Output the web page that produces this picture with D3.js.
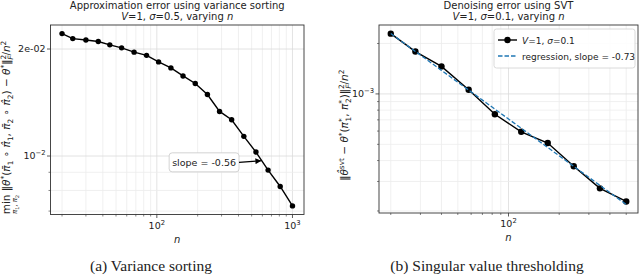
<!DOCTYPE html>
<html>
<head>
<meta charset="utf-8">
<script src="https://cdn.jsdelivr.net/npm/d3@7"></script>
<style>
  body { margin: 0; background: #fff; }
  svg text { font-family: "DejaVu Sans", sans-serif; fill: #222; }
  .cap { font-family: "Liberation Serif", "DejaVu Serif", serif; }
</style>
</head>
<body>
<svg id="chart" width="640" height="275"></svg>
<script>
// dati
const leftN = [20, 24, 30, 37, 45, 55, 68, 84, 103, 127, 156, 192, 236, 290, 356, 438, 538, 661, 812, 1000];
const leftErr = [0.0221, 0.0214, 0.0212, 0.0210, 0.02055, 0.02015, 0.0196, 0.0192, 0.0184, 0.0177, 0.0168,
                 0.0160, 0.0149, 0.01335, 0.01265, 0.01136, 0.01026, 0.00913, 0.00821, 0.00724];
const leftYTicks = [0.01, 0.02];
const leftYLabels = [["10", "\u22122"], ["2e-02", null]];
const slopeLeft = "-0.56";
const annoTip = [590, 0.0097];
const annoText = [223, 0.0096];

const rightN = [20, 28, 40, 58, 83, 119, 171, 244, 349, 500];
const rightErr = [2.29e-3, 1.79e-3, 1.46e-3, 1.06e-3, 7.56e-4, 5.94e-4, 5.09e-4, 3.70e-4, 2.73e-4, 2.28e-4];
const regSlope = -0.73;
const rightYTicks = [1e-3];
const rightYLabels = [["10", "\u22123"]];

const xTicksMajor = [100, 1000];

const svg = d3.select("#chart");

// margine del 5% in scala log, come matplotlib
function logPad(vals) {
  const lo = Math.log10(d3.min(vals)), hi = Math.log10(d3.max(vals));
  const m = (hi - lo) * 0.05;
  return [Math.pow(10, lo - m), Math.pow(10, hi + m)];
}

// scrive testo "matematico" a pezzi con apici e pedici
function mathText(sel, pieces, size) {
  let shift = 0;
  pieces.forEach(p => {
    const t = sel.append("tspan").text(p.t);
    let target = 0, fs = size;
    if (p.s === "sup") { target = -size * 0.4; fs = size * 0.7; }
    if (p.s === "sub") { target = size * 0.25; fs = size * 0.7; }
    t.attr("dy", target - shift).attr("font-size", fs);
    if (p.i) t.attr("font-style", "italic");
    if (p.dx) t.attr("dx", p.dx);
    shift = target;
  });
}

function panel(o) {
  const x = d3.scaleLog().domain(logPad(o.n)).range([o.x0, o.x1]);
  const y = d3.scaleLog().domain(logPad(o.yExtent)).range([o.y1, o.y0]);
  const g = svg.append("g");

  // griglia
  x.ticks().forEach(t => {
    g.append("line").attr("x1", x(t)).attr("x2", x(t)).attr("y1", o.y0).attr("y2", o.y1)
      .attr("stroke", xTicksMajor.includes(t) ? "#dcdcdc" : "#ececec").attr("stroke-width", 0.8);
  });
  y.ticks().forEach(t => {
    g.append("line").attr("x1", o.x0).attr("x2", o.x1).attr("y1", y(t)).attr("y2", y(t))
      .attr("stroke", o.yTicks.includes(t) ? "#dcdcdc" : "#ececec").attr("stroke-width", 0.8);
  });

  // tacche
  x.ticks().forEach(t => {
    const maj = xTicksMajor.includes(t);
    g.append("line").attr("x1", x(t)).attr("x2", x(t)).attr("y1", o.y1).attr("y2", o.y1 + (maj ? 3.5 : 2))
      .attr("stroke", "#333").attr("stroke-width", maj ? 0.8 : 0.6);
  });
  y.ticks().forEach(t => {
    const maj = o.yTicks.includes(t);
    g.append("line").attr("x1", o.x0).attr("x2", o.x0 - (maj ? 3.5 : 2)).attr("y1", y(t)).attr("y2", y(t))
      .attr("stroke", "#333").attr("stroke-width", maj ? 0.8 : 0.6);
  });

  // etichette asse x
  xTicksMajor.filter(t => t >= x.domain()[0] && t <= x.domain()[1]).forEach(t => {
    const tx = g.append("text").attr("x", x(t)).attr("y", o.y1 + 14).attr("text-anchor", "middle").attr("font-size", 9.5);
    tx.append("tspan").text("10");
    tx.append("tspan").text(Math.log10(t)).attr("dy", -4).attr("font-size", 6.8);
  });
  // etichette asse y
  o.yTicks.forEach((t, i) => {
    const lab = o.yLabels[i];
    const ty = g.append("text").attr("x", o.x0 - 5).attr("y", y(t) + 3.3).attr("text-anchor", "end").attr("font-size", 9.5);
    ty.append("tspan").text(lab[0]);
    if (lab[1]) ty.append("tspan").text(lab[1]).attr("dy", -4).attr("font-size", 6.8);
  });

  // riquadro
  g.append("rect").attr("x", o.x0).attr("y", o.y0).attr("width", o.x1 - o.x0).attr("height", o.y1 - o.y0)
    .attr("fill", "none").attr("stroke", "#333").attr("stroke-width", 0.9);

  // titolo
  const cx = (o.x0 + o.x1) / 2;
  g.append("text").attr("x", cx).attr("y", 8.5).attr("text-anchor", "middle").attr("font-size", 10).text(o.title);
  const sub = g.append("text").attr("x", cx).attr("y", 19.5).attr("text-anchor", "middle");
  mathText(sub, [{t: "V", i: 1}, {t: "=1, "}, {t: "\u03c3", i: 1}, {t: "=" + o.sigma + ", varying "}, {t: "n", i: 1}], 10);

  // asse x: n
  g.append("text").attr("x", cx).attr("y", o.y1 + 28).attr("text-anchor", "middle")
    .attr("font-size", 10).attr("font-style", "italic").text("n");

  // didascalia
  svg.append("text").attr("class", "cap").attr("x", o.capX).attr("y", 271).attr("text-anchor", "middle")
    .attr("font-size", 15.5).text(o.caption);

  return { g, x, y };
}

// ---------------- pannello sinistro ----------------
const L = panel({
  n: leftN, yExtent: leftErr, x0: 50.5, x1: 304, y0: 25, y1: 214.5,
  yTicks: leftYTicks, yLabels: leftYLabels,
  title: "Approximation error using variance sorting", sigma: "0.5",
  caption: "(a) Variance sorting", capX: 151
});

const lineL = d3.line().x((d, i) => L.x(leftN[i])).y(d => L.y(d));
L.g.append("path").datum(leftErr).attr("d", lineL).attr("fill", "none").attr("stroke", "#000").attr("stroke-width", 1.4);
L.g.selectAll("circle.pt").data(leftErr).join("circle")
  .attr("cx", (d, i) => L.x(leftN[i])).attr("cy", d => L.y(d)).attr("r", 2.7).attr("fill", "#000");

// annotazione con freccia
svg.append("defs").append("marker").attr("id", "arr").attr("viewBox", "0 0 10 10")
  .attr("refX", 10).attr("refY", 5).attr("markerWidth", 9).attr("markerHeight", 6)
  .attr("markerUnits", "userSpaceOnUse").attr("orient", "auto")
  .append("path").attr("d", "M0,0 L10,5 L0,10 z").attr("fill", "#000");

const atx = L.x(annoText[0]), aty = L.y(annoText[1]);
const aText = L.g.append("text").attr("x", atx).attr("y", aty + 3.3).attr("text-anchor", "middle")
  .attr("font-size", 9.5).text("slope = " + slopeLeft);
const bb = aText.node().getBBox();
L.g.insert("rect", "text:last-of-type").attr("x", bb.x - 3).attr("y", aty - 9.5).attr("width", bb.width + 6).attr("height", 19)
  .attr("rx", 3).attr("fill", "#fff").attr("stroke", "#c8c8c8").attr("stroke-width", 0.8);
aText.raise();
L.g.append("line").attr("x1", bb.x + bb.width + 3).attr("y1", aty).attr("x2", L.x(annoTip[0])).attr("y2", L.y(annoTip[1]))
  .attr("stroke", "#000").attr("stroke-width", 1.2).attr("marker-end", "url(#arr)");

// etichetta y sinistra
const ylg = svg.append("g").attr("transform", "translate(10,125) rotate(-90)");
const ylt = ylg.append("text").attr("font-size", 10.5);
mathText(ylt, [
  {t: "min "}, {t: "\u2016"}, {t: "\u03b8", i: 1}, {t: "*", s: "sup"}, {t: "("},
  {t: "\u03c0\u0304", i: 1}, {t: "1", s: "sub"}, {t: " \u2218 "}, {t: "\u03c0\u0302", i: 1}, {t: "1", s: "sub"}, {t: ", "},
  {t: "\u03c0\u0304", i: 1}, {t: "2", s: "sub"}, {t: " \u2218 "}, {t: "\u03c0\u0302", i: 1}, {t: "2", s: "sub"},
  {t: ") \u2212 "}, {t: "\u03b8", i: 1}, {t: "*", s: "sup"}, {t: "\u2016"}, {t: "2", s: "sup"}, {t: "F", s: "sub", i: 1, dx: -5},
  {t: "/"}, {t: "n", i: 1}, {t: "2", s: "sup"}
], 10.5);
const ylw = ylt.node().getComputedTextLength();
ylt.attr("x", -ylw / 2);
const minW = ylg.append("text").attr("font-size", 10.5).text("min").node();
const mw = minW.getComputedTextLength();
d3.select(minW).remove();
const subt = ylg.append("text").attr("x", -ylw / 2 + mw / 2).attr("y", 7).attr("text-anchor", "middle").attr("font-size", 7);
mathText(subt, [{t: "\u03c0", i: 1}, {t: "1", s: "sub"}, {t: ", "}, {t: "\u03c0", i: 1}, {t: "2", s: "sub"}], 7);

// ---------------- pannello destro ----------------
const lx = rightN.map(v => Math.log10(v)), ly = rightErr.map(v => Math.log10(v));
const regB = d3.mean(ly) - regSlope * d3.mean(lx);
const regVals = rightN.map(v => Math.pow(10, regB + regSlope * Math.log10(v)));

const R = panel({
  n: rightN, yExtent: rightErr.concat(regVals), x0: 379, x1: 638, y0: 25, y1: 213,
  yTicks: rightYTicks, yLabels: rightYLabels,
  title: "Denoising error using SVT", sigma: "0.1",
  caption: "(b) Singular value thresholding", capX: 487
});

const lineR = d3.line().x((d, i) => R.x(rightN[i])).y(d => R.y(d));
R.g.append("path").datum(rightErr).attr("d", lineR).attr("fill", "none").attr("stroke", "#000").attr("stroke-width", 1.4);
R.g.selectAll("circle.pt").data(rightErr).join("circle")
  .attr("cx", (d, i) => R.x(rightN[i])).attr("cy", d => R.y(d)).attr("r", 3.2).attr("fill", "#000");
R.g.append("path").datum(regVals).attr("d", lineR).attr("fill", "none").attr("stroke", "#1f77b4")
  .attr("stroke-width", 1.3).attr("stroke-dasharray", "4.5,2");

// legenda
const lg = R.g.append("g").attr("transform", "translate(494,29)");
lg.append("rect").attr("width", 141).attr("height", 39).attr("rx", 2.5).attr("fill", "#fff").attr("fill-opacity", 0.85)
  .attr("stroke", "#d0d0d0").attr("stroke-width", 0.8);
lg.append("line").attr("x1", 4).attr("x2", 23).attr("y1", 11).attr("y2", 11).attr("stroke", "#000").attr("stroke-width", 1.4);
lg.append("circle").attr("cx", 13.5).attr("cy", 11).attr("r", 3.2).attr("fill", "#000");
const lt1 = lg.append("text").attr("x", 28).attr("y", 14.5);
mathText(lt1, [{t: "V", i: 1}, {t: "=1, "}, {t: "\u03c3", i: 1}, {t: "=0.1"}], 9);
lg.append("line").attr("x1", 4).attr("x2", 23).attr("y1", 27).attr("y2", 27).attr("stroke", "#1f77b4")
  .attr("stroke-width", 1.3).attr("stroke-dasharray", "4.5,2");
lg.append("text").attr("x", 28).attr("y", 30.5).attr("font-size", 9).text("regression, slope = " + regSlope.toFixed(2));

// etichetta y destra
const yrg = svg.append("g").attr("transform", "translate(348,120) rotate(-90)");
const yrt = yrg.append("text").attr("font-size", 10.5);
mathText(yrt, [
  {t: "\u2016"}, {t: "\u03b8\u0302", i: 1}, {t: "svt", s: "sup"}, {t: " \u2212 "}, {t: "\u03b8", i: 1}, {t: "*", s: "sup"}, {t: "("},
  {t: "\u03c0", i: 1}, {t: "*", s: "sup"}, {t: "1", s: "sub", dx: -3}, {t: ", "},
  {t: "\u03c0", i: 1}, {t: "*", s: "sup"}, {t: "2", s: "sub", dx: -3}, {t: ")\u2016"},
  {t: "2", s: "sup"}, {t: "F", s: "sub", i: 1, dx: -4.5}, {t: "/"}, {t: "n", i: 1}, {t: "2", s: "sup"}
], 10.5);
yrt.attr("x", -yrt.node().getComputedTextLength() / 2);
</script>
</body>
</html>
